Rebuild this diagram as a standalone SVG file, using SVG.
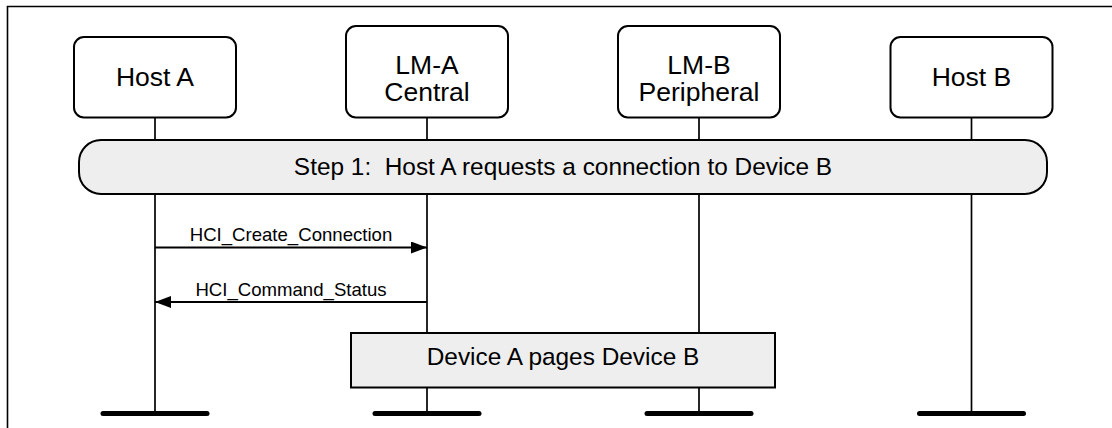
<svg xmlns="http://www.w3.org/2000/svg" width="1112" height="428" viewBox="0 0 1112 428">
<style>
text{font-family:"Liberation Sans",Arial,sans-serif;fill:#000}
.node rect{fill:#fff;stroke:#000;stroke-width:2}
.lbl{font-size:26.5px;text-anchor:middle}
.life{stroke:#000;stroke-width:1.7;fill:none}
.bar{stroke:#000;stroke-width:5;stroke-linecap:round}
.band{fill:#eeeeee;stroke:#000;stroke-width:2}
.msg{stroke:#000;stroke-width:1.8;fill:none}
.mtxt{font-size:18.6px;text-anchor:middle}
.big{font-size:24.4px;text-anchor:middle}
</style>
<defs>
<marker id="ah" markerWidth="16" markerHeight="12" refX="16" refY="6" orient="auto" markerUnits="userSpaceOnUse">
<path d="M0,0 L16,6 L0,12 Z" fill="#000"/>
</marker>
</defs>
<g id="frame">
<path d="M7.5,428 V6.5 H1112" fill="none" stroke="#000" stroke-width="1.6"/>
</g>
<g id="lifelines">
<line class="life" x1="155" y1="117" x2="155" y2="413"/>
<line class="life" x1="427" y1="117" x2="427" y2="413"/>
<line class="life" x1="699" y1="117" x2="699" y2="413"/>
<line class="life" x1="971.5" y1="117" x2="971.5" y2="413"/>
<line class="bar" x1="103" y1="413.5" x2="207" y2="413.5"/>
<line class="bar" x1="375" y1="413.5" x2="479" y2="413.5"/>
<line class="bar" x1="647" y1="413.5" x2="751" y2="413.5"/>
<line class="bar" x1="919.5" y1="413.5" x2="1023.5" y2="413.5"/>
</g>
<g id="hostA" class="node">
<rect x="74" y="37" width="162" height="80.5" rx="10"/>
<text class="lbl" x="155" y="86">Host A</text>
</g>
<g id="lmA" class="node">
<rect x="346" y="26" width="162" height="91.5" rx="10"/>
<text class="lbl" x="427" y="74">LM-A</text>
<text class="lbl" x="427" y="101">Central</text>
</g>
<g id="lmB" class="node">
<rect x="618" y="26" width="162" height="91.5" rx="10"/>
<text class="lbl" x="699" y="74">LM-B</text>
<text class="lbl" x="699" y="101">Peripheral</text>
</g>
<g id="hostB" class="node">
<rect x="890.5" y="37" width="162" height="80.5" rx="10"/>
<text class="lbl" x="971.5" y="86">Host B</text>
</g>
<g id="step1">
<rect class="band" x="79" y="140" width="968" height="54" rx="22"/>
<text class="big" x="563" y="175" xml:space="preserve">Step 1:  Host A requests a connection to Device B</text>
</g>
<g id="connectors">
<line class="msg" x1="155" y1="247.5" x2="427" y2="247.5" marker-end="url(#ah)"/>
<text class="mtxt" x="291" y="241">HCI_Create_Connection</text>
<line class="msg" x1="427" y1="302" x2="155" y2="302" marker-end="url(#ah)"/>
<text class="mtxt" x="291" y="296">HCI_Command_Status</text>
</g>
<g id="paging">
<rect class="band" x="351" y="333" width="424" height="54.5"/>
<text class="big" x="563" y="364.5">Device A pages Device B</text>
</g>
</svg>
